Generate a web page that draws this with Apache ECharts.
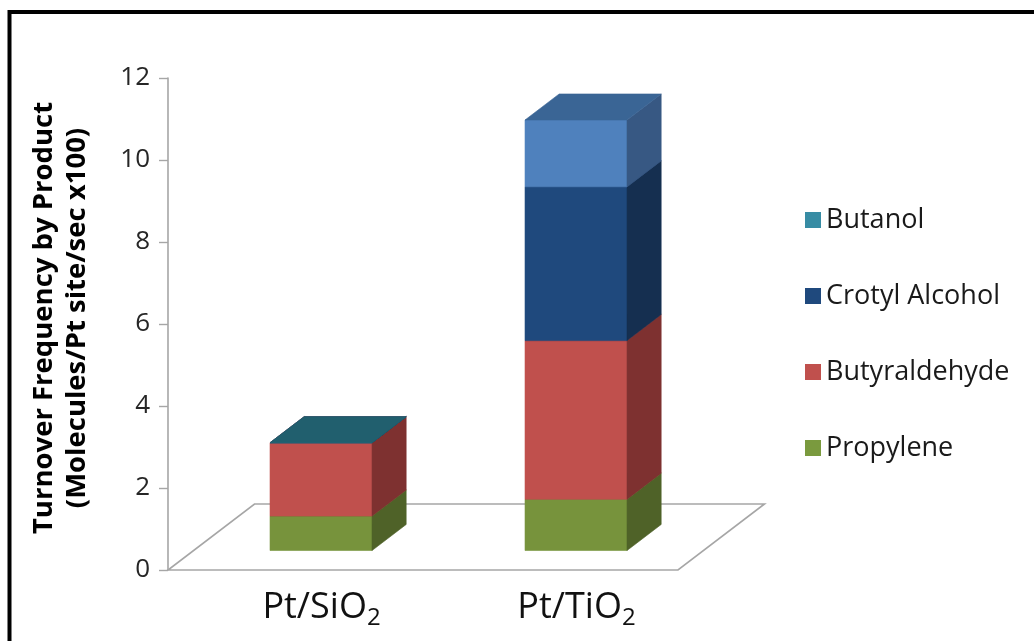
<!DOCTYPE html>
<html>
<head>
<meta charset="utf-8">
<script src="https://cdn.jsdelivr.net/npm/echarts@6/dist/echarts.min.js"></script>
<style>
  html, body { margin: 0; padding: 0; background: #ffffff; }
  #chart { width: 1034px; height: 641px; }
</style>
</head>
<body>
<div id="chart"></div>
<script>
// Catalysts on the category axis
const catalysts = ['Pt/SiO2', 'Pt/TiO2'];

// Turnover frequency by product (molecules / Pt site / sec x100), stacked bottom to top
const propylene     = [0.84, 1.25];
const butyraldehyde = [1.79, 3.87];
const crotylAlcohol = [0.00, 3.75];
const butanol       = [0.00, 1.63];

// Value axis ticks
const yMin = 0, yMax = 12, yStep = 2;

// Legend order (top to bottom)
const legendOrder = ['Butanol', 'Crotyl Alcohol', 'Butyraldehyde', 'Propylene'];

const FONT = '"Open Sans", "Noto Sans", sans-serif';

// Face shading for each product: front, right side, top
const faces = {
  'Propylene':      { legend: '#7A9A3E', front: '#77933C', side: '#4F6228', top: '#61792F' },
  'Butyraldehyde':  { legend: '#C0504D', front: '#C0504D', side: '#7E3130', top: '#9A3F3D' },
  'Crotyl Alcohol': { legend: '#1F497D', front: '#1F497D', side: '#152F50', top: '#1A3C68' },
  'Butanol':        { legend: '#378CA4', front: '#31859C', side: '#1F5767', top: '#215F6E' }
};
// The Pt/TiO2 butanol block is painted in a lighter blue
const pointFaces = {
  'Butanol': { 1: { front: '#4F81BD', side: '#375883', top: '#3A6595' } }
};

// Oblique 3D projection: full floor depth offset, and where the boxes sit in that depth
const DEPTH_X = 86.5, DEPTH_Y = -66;
const FRONT = 0.295, BACK = 0.69;
const BAR_RATIO = 0.4;

// Stack the products bottom to top
const stackOrder = [
  ['Propylene', propylene],
  ['Butyraldehyde', butyraldehyde],
  ['Crotyl Alcohol', crotylAlcohol],
  ['Butanol', butanol]
];
const running = catalysts.map(() => 0);
const stacked = stackOrder.map(([name, vals]) => {
  const data = vals.map((v, i) => {
    const item = [i, running[i], v];
    running[i] += v;
    return item;
  });
  return { name, data };
});

function boxRenderer(name) {
  return function (params, api) {
    const idx = api.value(0);
    const base = api.value(1);
    const val = api.value(2);
    const band = api.size([1, 0])[0];
    const w = band * BAR_RATIO;
    const cx = api.coord([idx, 0])[0];
    const x0 = cx - w / 2 + FRONT * DEPTH_X;
    const x1 = x0 + w;
    const yb = api.coord([idx, base])[1] + FRONT * DEPTH_Y;
    const yt = api.coord([idx, base + val])[1] + FRONT * DEPTH_Y;
    const ddx = (BACK - FRONT) * DEPTH_X;
    const ddy = (BACK - FRONT) * DEPTH_Y;
    const c = (pointFaces[name] && pointFaces[name][idx]) || faces[name];
    const face = (pts, color) => ({
      type: 'polygon',
      shape: { points: pts },
      style: { fill: color, stroke: color, lineWidth: 0.6 }
    });
    return {
      type: 'group',
      children: [
        face([[x0, yb], [x1, yb], [x1, yt], [x0, yt]], c.front),
        face([[x1, yb], [x1 + ddx, yb + ddy], [x1 + ddx, yt + ddy], [x1, yt]], c.side),
        face([[x0, yt], [x1, yt], [x1 + ddx, yt + ddy], [x0 + ddx, yt + ddy]], c.top)
      ]
    };
  };
}

// Floor outline under the boxes
function floorRenderer(params, api) {
  const band = api.size([1, 0])[0];
  const left = api.coord([0, 0])[0] - band / 2;
  const right = api.coord([catalysts.length - 1, 0])[0] + band / 2;
  const y0 = api.coord([0, yMin])[1];
  return {
    type: 'polygon',
    shape: { points: [[left, y0], [right, y0], [right + DEPTH_X, y0 + DEPTH_Y], [left + DEPTH_X, y0 + DEPTH_Y]] },
    style: { fill: 'none', stroke: '#A6A6A6', lineWidth: 1.6 }
  };
}

const series = [{
  name: 'floor',
  type: 'custom',
  clip: false,
  silent: true,
  renderItem: floorRenderer,
  encode: { x: 0, y: 1 },
  data: [[0, 0]],
  z: 1
}].concat(stacked.map(s => ({
  name: s.name,
  type: 'custom',
  clip: false,
  renderItem: boxRenderer(s.name),
  encode: { x: 0, y: [1, 2] },
  itemStyle: { color: faces[s.name].legend },
  data: s.data,
  z: 2
})));

const chart = echarts.init(document.getElementById('chart'), null, { renderer: 'canvas' });
chart.setOption({
  animation: false,
  backgroundColor: '#ffffff',
  grid: { left: 168, right: 356, top: 78, bottom: 71, containLabel: false },
  legend: {
    data: legendOrder,
    orient: 'vertical',
    left: 800,
    top: 200,
    itemWidth: 16,
    itemHeight: 16,
    itemGap: 46,
    icon: 'rect',
    selectedMode: false,
    textStyle: { fontFamily: FONT, fontSize: 27, color: '#1a1a1a', lineHeight: 30 }
  },
  xAxis: {
    type: 'category',
    data: catalysts,
    axisLine: { show: false },
    axisTick: { show: false },
    splitLine: { show: false },
    axisLabel: {
      interval: 0,
      margin: 16,
      padding: [0, 0, 0, 52],
      formatter: function (v) {
        const m = v.match(/^(.*?)(\d)$/);
        return m ? '{m|' + m[1] + '}{s|' + m[2] + '}' : '{m|' + v + '}';
      },
      rich: {
        m: { fontFamily: FONT, fontSize: 36, color: '#111111', lineHeight: 44, verticalAlign: 'middle' },
        s: { fontFamily: FONT, fontSize: 24, color: '#111111', lineHeight: 20, verticalAlign: 'bottom' }
      }
    }
  },
  yAxis: {
    type: 'value',
    min: yMin,
    max: yMax,
    interval: yStep,
    axisLine: { show: true, lineStyle: { color: '#A6A6A6', width: 1.6 } },
    axisTick: { show: true, length: 9, lineStyle: { color: '#A6A6A6', width: 1.4 } },
    splitLine: { show: false },
    axisLabel: { fontFamily: FONT, fontSize: 26, color: '#262626', margin: 18 }
  },
  graphic: [
    {
      type: 'rect',
      silent: true,
      shape: { x: 9.5, y: 12, width: 1100, height: 700 },
      style: { fill: 'none', stroke: '#000000', lineWidth: 4 }
    },
    {
      type: 'text',
      silent: true,
      x: 61,
      y: 318,
      rotation: Math.PI / 2,
      style: {
        text: 'Turnover Frequency by Product\n(Molecules/Pt site/sec x100)',
        fontFamily: FONT,
        fontWeight: 'bold',
        fontSize: 27.5,
        lineHeight: 33,
        align: 'center',
        verticalAlign: 'middle',
        fill: '#000000'
      }
    }
  ],
  series: series
});
</script>
</body>
</html>
